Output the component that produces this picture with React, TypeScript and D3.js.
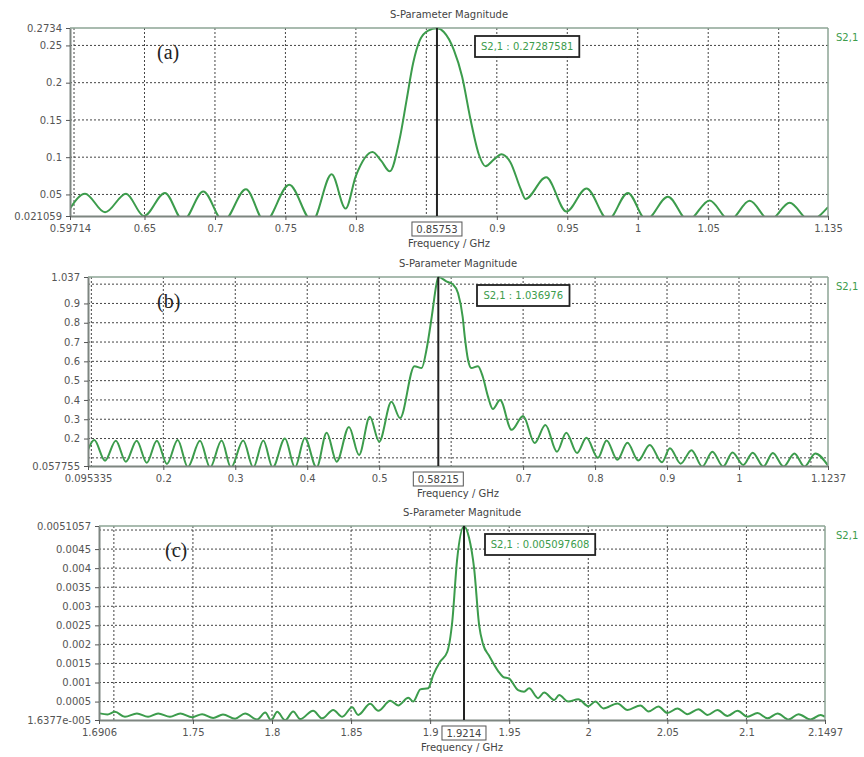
import React, { useEffect, useRef } from 'react'
import * as d3 from 'd3'

// ---- panel (a): S2,1 magnitude, 0.597 - 1.135 GHz
const freqA = [0.5971, 0.6078, 0.622, 0.6369, 0.6496, 0.6645, 0.6775, 0.6917, 0.706, 0.722, 0.7354, 0.7527,
  0.769, 0.7828, 0.7927, 0.8, 0.8118, 0.818, 0.824, 0.831, 0.836, 0.8406, 0.8454, 0.8513, 0.8575, 0.8624,
  0.8695, 0.8754, 0.8813, 0.8872, 0.892, 0.898, 0.9033, 0.9097, 0.917, 0.9203, 0.935, 0.9494, 0.9636, 0.979,
  0.993, 1.006, 1.0214, 1.0356, 1.051, 1.0652, 1.0794, 1.0936, 1.1078, 1.122, 1.135]
const magA = [0.031, 0.051, 0.026, 0.051, 0.021, 0.052, 0.015, 0.054, 0.014, 0.057, 0.013, 0.063,
  0.014, 0.077, 0.031, 0.075, 0.107, 0.095, 0.081, 0.124, 0.177, 0.226, 0.257, 0.27, 0.2729, 0.268,
  0.244, 0.208, 0.151, 0.104, 0.088, 0.097, 0.104, 0.093, 0.057, 0.044, 0.073, 0.027, 0.058, 0.016,
  0.052, 0.016, 0.047, 0.015, 0.042, 0.015, 0.0415, 0.015, 0.039, 0.015, 0.033]
const xLabelsA = ['0.59714', '0.65', '0.7', '0.75', '0.8', '0.9', '0.95', '1', '1.05', '1.135']
const yLabelsA = ['0.021059', '0.05', '0.1', '0.15', '0.2', '0.25', '0.2734']

// ---- panel (b): 0.095 - 1.124 GHz
const freqB = [0.0953, 0.104, 0.119, 0.134, 0.148, 0.163, 0.177, 0.191, 0.205, 0.22, 0.234, 0.251, 0.265,
  0.281, 0.294, 0.311, 0.325, 0.339, 0.352, 0.369, 0.383, 0.3967, 0.413, 0.427, 0.441, 0.458, 0.472, 0.487,
  0.5, 0.517, 0.529, 0.549, 0.559, 0.5657, 0.573, 0.5796, 0.5822, 0.594, 0.6027, 0.6096, 0.616, 0.6189,
  0.6235, 0.628, 0.6373, 0.644, 0.651, 0.658, 0.668, 0.684, 0.7, 0.716, 0.731, 0.747, 0.76, 0.775, 0.788,
  0.804, 0.816, 0.831, 0.845, 0.86, 0.876, 0.893, 0.904, 0.919, 0.934, 0.949, 0.963, 0.978, 0.991, 1.006,
  1.019, 1.034, 1.047, 1.062, 1.077, 1.091, 1.106, 1.1237]
const magB = [0.141, 0.192, 0.085, 0.189, 0.08, 0.189, 0.075, 0.189, 0.068, 0.192, 0.052, 0.189, 0.05,
  0.19, 0.05, 0.19, 0.05, 0.19, 0.05, 0.2, 0.05, 0.203, 0.05, 0.23, 0.08, 0.26, 0.115, 0.313,
  0.184, 0.39, 0.306, 0.575, 0.565, 0.66, 0.83, 1.0, 1.037, 1.013, 0.998, 0.953, 0.831, 0.728,
  0.607, 0.565, 0.575, 0.52, 0.42, 0.353, 0.4, 0.245, 0.317, 0.177, 0.27, 0.132, 0.23, 0.125, 0.204,
  0.1, 0.19, 0.09, 0.178, 0.086, 0.167, 0.077, 0.15, 0.07, 0.14, 0.055, 0.132, 0.055, 0.128, 0.063,
  0.127, 0.055, 0.125, 0.055, 0.123, 0.055, 0.123, 0.06]
const xLabelsB = ['0.095335', '0.2', '0.3', '0.4', '0.5', '0.7', '0.8', '0.9', '1', '1.1237']
const yLabelsB = ['0.057755', '0.2', '0.3', '0.4', '0.5', '0.6', '0.7', '0.8', '0.9', '1.037']

// ---- panel (c): 1.69 - 2.15 GHz
const freqC = [1.691, 1.696, 1.7007, 1.707, 1.7146, 1.7216, 1.728, 1.7355, 1.742, 1.7495, 1.7558, 1.7628,
  1.769, 1.7767, 1.783, 1.7906, 1.7957, 1.7995, 1.8033, 1.8083, 1.8134, 1.8178, 1.826, 1.8317, 1.8387,
  1.8444, 1.8507, 1.8545, 1.8621, 1.8672, 1.8748, 1.8798, 1.8862, 1.8893, 1.8938, 1.8988, 1.902, 1.9064,
  1.9108, 1.914, 1.917, 1.9214, 1.9246, 1.9278, 1.931, 1.9335, 1.9373, 1.943, 1.9461, 1.95, 1.9556, 1.9594,
  1.9626, 1.9683, 1.9721, 1.9785, 1.9816, 1.9873, 1.9937, 2.0, 2.0045, 2.0096, 2.0185, 2.0248, 2.033,
  2.0381, 2.0444, 2.05, 2.0564, 2.0627, 2.0697, 2.0754, 2.0817, 2.088, 2.0944, 2.1007, 2.107, 2.1134,
  2.1197, 2.1267, 2.133, 2.1406, 2.147, 2.1497]
const magC = [0.00019, 0.00016, 0.00023, 0.0001, 0.00019, 0.0001, 0.00019, 0.0001, 0.00019, 0.00009, 0.00017, 0.00007,
  0.00016, 0.00005, 0.00019, 0.00003, 0.00021, 0.00001, 0.00023, 0.00001, 0.00024, 0.00004, 0.00026, 0.00006, 0.00028,
  0.0001, 0.00035, 0.00015, 0.00044, 0.00026, 0.00052, 0.0004, 0.0006, 0.0005, 0.00082, 0.00085, 0.0012, 0.00155,
  0.0018, 0.0026, 0.0042, 0.0051, 0.0048, 0.004, 0.0025, 0.002, 0.0017, 0.0013, 0.00115, 0.0011, 0.0008, 0.00076,
  0.00085, 0.00059, 0.00074, 0.00054, 0.00067, 0.0005, 0.00056, 0.00038, 0.0005, 0.00032, 0.00045, 0.00028, 0.0004,
  0.00024, 0.00037, 0.0002, 0.00032, 0.00017, 0.0003, 0.00015, 0.00028, 0.00012, 0.00026, 0.0001, 0.0002, 0.00006,
  0.00019, 0.00003, 0.00017, 0.00003, 0.00015, 0.0001]
const xLabelsC = ['1.6906', '1.75', '1.8', '1.85', '1.9', '1.95', '2', '2.05', '2.1', '2.1497']
const yLabelsC = ['1.6377e-005', '0.0005', '0.001', '0.0015', '0.002', '0.0025', '0.003', '0.0035', '0.004', '0.0045', '0.0051057']

const markerFreqs = ['0.85753', '0.58215', '1.9214']
const markerValues = ['0.27287581', '1.036976', '0.005097608']

const GREEN = '#3c9c4c'
const FONT = 'DejaVu Sans, Verdana, sans-serif'

const panels = [
  { key: 'a', tag: '(a)', freq: freqA, mag: magA, xLabels: xLabelsA, yLabels: yLabelsA, yTickCount: 5,
    left: 70, right: 828, top: 28, bottom: 216, readoutX: 475, tagX: 157 },
  { key: 'b', tag: '(b)', freq: freqB, mag: magB, xLabels: xLabelsB, yLabels: yLabelsB, yTickCount: 10,
    left: 88, right: 828, top: 277, bottom: 466, readoutX: 477, tagX: 157 },
  { key: 'c', tag: '(c)', freq: freqC, mag: magC, xLabels: xLabelsC, yLabels: yLabelsC, yTickCount: 10,
    left: 99, right: 825, top: 526, bottom: 720, readoutX: 485, tagX: 165 },
]

function drawPanel(svg: any, p: any, idx: number) {
  const xl = p.xLabels.map(Number)
  const yl = p.yLabels.map(Number)
  const x = d3.scaleLinear().domain([xl[0], xl[xl.length - 1]]).range([p.left, p.right])
  const y = d3.scaleLinear().domain([yl[0], yl[yl.length - 1]]).range([p.bottom, p.top])
  const midX = (p.left + p.right) / 2

  const g = svg.append('g').attr('class', 'panel-' + p.key)

  // dotted grid
  g.append('g').selectAll('line').data(x.ticks(10)).join('line')
    .attr('x1', (d: number) => x(d)).attr('x2', (d: number) => x(d))
    .attr('y1', p.top).attr('y2', p.bottom)
    .attr('stroke', '#444').attr('stroke-width', 1).attr('stroke-dasharray', '2,2')
  g.append('g').selectAll('line').data(y.ticks(p.yTickCount)).join('line')
    .attr('x1', p.left).attr('x2', p.right)
    .attr('y1', (d: number) => y(d)).attr('y2', (d: number) => y(d))
    .attr('stroke', '#444').attr('stroke-width', 1).attr('stroke-dasharray', '2,2')

  // curve, clipped to plot area
  svg.select('defs').append('clipPath').attr('id', 'clip-' + p.key)
    .append('rect').attr('x', p.left).attr('y', p.top - 1)
    .attr('width', p.right - p.left).attr('height', p.bottom - p.top + 1)
  const line = d3.line<number>()
    .x((_d, i) => x(p.freq[i]))
    .y(d => y(d))
    .curve(d3.curveMonotoneX)
  g.append('path').datum(p.mag)
    .attr('clip-path', 'url(#clip-' + p.key + ')')
    .attr('d', line)
    .attr('fill', 'none').attr('stroke', GREEN).attr('stroke-width', 2)

  // frame
  g.append('line').attr('x1', p.left).attr('x2', p.right).attr('y1', p.top).attr('y2', p.top)
    .attr('stroke', '#8ca494').attr('stroke-width', 1.5)
  g.append('line').attr('x1', p.right).attr('x2', p.right).attr('y1', p.top).attr('y2', p.bottom)
    .attr('stroke', '#8ca494').attr('stroke-width', 1.5)

  // axes
  const yAxis = d3.axisLeft(y).tickValues(yl).tickFormat((_d, i) => p.yLabels[i])
    .tickSizeInner(4).tickSizeOuter(0).tickPadding(4)
  const ya = g.append('g').attr('transform', `translate(${p.left},0)`).call(yAxis)
  const xAxis = d3.axisBottom(x).tickValues(xl).tickFormat((_d, i) => p.xLabels[i])
    .tickSizeInner(4).tickSizeOuter(0).tickPadding(5)
  const xa = g.append('g').attr('transform', `translate(0,${p.bottom})`).call(xAxis)
  for (const a of [ya, xa]) {
    a.attr('font-family', FONT).attr('font-size', 10)
    a.select('.domain').attr('stroke', '#7d8580').attr('stroke-width', 2)
    a.selectAll('.tick line').attr('stroke', '#555')
    a.selectAll('.tick text').attr('fill', '#555')
  }

  // marker
  const mx = x(Number(markerFreqs[idx]))
  g.append('line').attr('x1', mx).attr('x2', mx).attr('y1', p.top).attr('y2', p.bottom)
    .attr('stroke', '#222').attr('stroke-width', 2)
  const mLabel = markerFreqs[idx]
  const mw = mLabel.length * 6 + 8
  g.append('rect').attr('x', mx - mw / 2).attr('y', p.bottom + 6).attr('width', mw).attr('height', 14)
    .attr('fill', '#fff').attr('stroke', '#555').attr('stroke-width', 1)
  g.append('text').attr('x', mx).attr('y', p.bottom + 17).attr('text-anchor', 'middle')
    .attr('font-family', FONT).attr('font-size', 10).attr('fill', '#444').text(mLabel)

  // readout box
  const rText = 'S2,1 : ' + markerValues[idx]
  const rw = rText.length * 5.9 + 4
  g.append('rect').attr('x', p.readoutX).attr('y', p.top + 8).attr('width', rw).attr('height', 21)
    .attr('fill', '#fff').attr('stroke', '#222').attr('stroke-width', 1.8)
  g.append('text').attr('x', p.readoutX + rw / 2).attr('y', p.top + 22).attr('text-anchor', 'middle')
    .attr('font-family', FONT).attr('font-size', 10).attr('fill', GREEN).text(rText)

  // titles
  g.append('text').attr('x', midX).attr('y', p.top - 10).attr('text-anchor', 'middle')
    .attr('font-family', FONT).attr('font-size', 10).attr('fill', '#444').text('S-Parameter Magnitude')
  g.append('text').attr('x', midX).attr('y', p.bottom + 31).attr('text-anchor', 'middle')
    .attr('font-family', FONT).attr('font-size', 10).attr('fill', '#444').text('Frequency / GHz')
  g.append('text').attr('x', 836).attr('y', p.top + 13)
    .attr('font-family', FONT).attr('font-size', 10).attr('fill', GREEN).text('S2,1')
  g.append('text').attr('x', p.tagX).attr('y', p.top + 31)
    .attr('font-family', 'Liberation Serif, Times New Roman, serif').attr('font-size', 20).attr('fill', '#222')
    .text(p.tag)
}

export default function App() {
  const ref = useRef<SVGSVGElement>(null)

  useEffect(() => {
    const svg = d3.select(ref.current)
    svg.selectAll('*').remove()
    svg.append('rect').attr('width', 864).attr('height', 757).attr('fill', '#fff')
    svg.append('defs')
    panels.forEach((p, i) => drawPanel(svg, p, i))
  }, [])

  return (
    <svg ref={ref} width={864} height={757}
      style={{ position: 'absolute', left: 0, top: 0, display: 'block' }} />
  )
}
